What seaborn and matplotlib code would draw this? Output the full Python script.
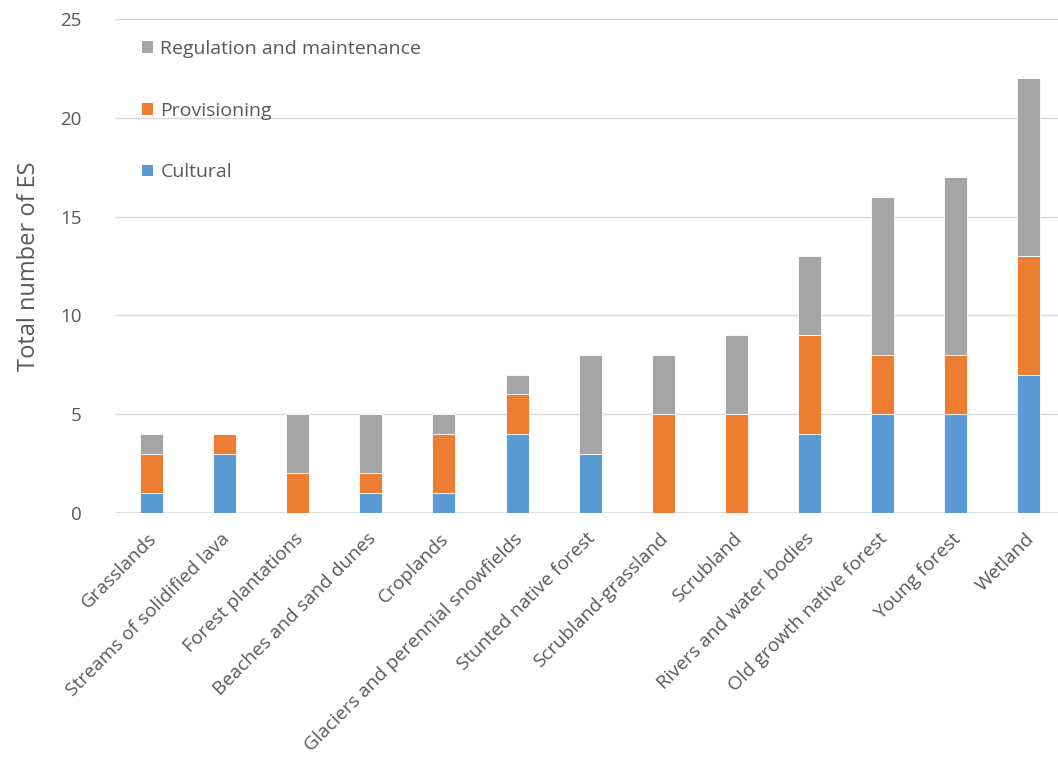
import matplotlib
matplotlib.use("Agg")
import matplotlib.pyplot as plt
import seaborn as sns
import pandas as pd
from matplotlib.patches import Patch
from matplotlib.transforms import ScaledTranslation

categories = [
    "Grasslands", "Streams of solidified lava", "Forest plantations",
    "Beaches and sand dunes", "Croplands", "Glaciers and perennial snowfields",
    "Stunted native forest", "Scrubland-grassland", "Scrubland",
    "Rivers and water bodies", "Old growth native forest", "Young forest", "Wetland",
]
cultural = [1, 3, 0, 1, 1, 4, 3, 0, 0, 4, 5, 5, 7]
provisioning = [2, 1, 2, 1, 3, 2, 0, 5, 5, 5, 3, 3, 6]
regulation = [1, 0, 3, 3, 1, 1, 5, 3, 4, 4, 8, 9, 9]

series_names = ["Cultural", "Provisioning", "Regulation and maintenance"]
colors = ["#5B9BD5", "#ED7D31", "#A5A5A5"]
y_ticks = [0, 5, 10, 15, 20, 25]

sns.set_theme(style="white")
plt.rcParams["font.family"] = ["Open Sans", "DejaVu Sans"]
text_color = "#595959"

df = pd.DataFrame({
    "category": categories,
    "Cultural": cultural,
    "Provisioning": provisioning,
    "Regulation and maintenance": regulation,
})

fig = plt.figure(figsize=(10.58, 7.6), dpi=100)
ax = fig.add_axes([0.1087, 0.325, 0.8913, 0.65])

bottom = [0] * len(categories)
for name, color in zip(series_names, colors):
    sns.barplot(data=df, x="category", y=name, color=color, width=0.315,
                bottom=bottom, ax=ax, saturation=1, edgecolor="white",
                linewidth=0.6, order=categories)
    bottom = [b + v for b, v in zip(bottom, df[name])]

ax.set_ylim(0, 25)
ax.set_xlim(-0.5, 12.4)
ax.set_yticks(y_ticks)
ax.yaxis.grid(True, color="#D9D9D9", linewidth=1.0)
ax.set_axisbelow(True)
for side in ["top", "right", "left", "bottom"]:
    ax.spines[side].set_visible(False)
ax.axhline(0, color="#D9D9D9", linewidth=1.2, zorder=0)

ax.set_xlabel("")
ax.set_ylabel("Total number of ES", fontsize=17, color=text_color, labelpad=14)
ax.tick_params(axis="both", length=0, colors=text_color)
ax.tick_params(axis="y", labelsize=13.5, pad=24)
ax.tick_params(axis="x", labelsize=13.8, pad=12)
shift = ScaledTranslation(-4 / 100, 0, fig.dpi_scale_trans)
for lbl in ax.get_xticklabels():
    lbl.set_rotation(45)
    lbl.set_ha("right")
    lbl.set_rotation_mode("anchor")
    lbl.set_transform(lbl.get_transform() + shift)

handles = [Patch(facecolor=c, edgecolor="none") for c in reversed(colors)]
ax.legend(handles, list(reversed(series_names)), loc="upper left",
          bbox_to_anchor=(0.01, 0.993), frameon=False, fontsize=14,
          labelcolor=text_color, handlelength=0.55, handleheight=0.55,
          handletextpad=0.4, labelspacing=2.25)

fig.savefig("out.png", dpi=100)
